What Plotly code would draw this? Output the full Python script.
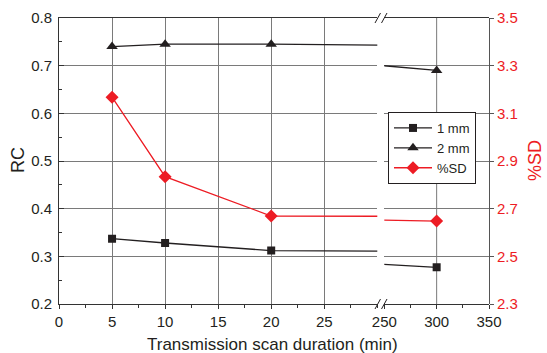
import plotly.graph_objects as go

# ---- data ----
durations = [5, 10, 20, 300]          # transmission scan duration (min)
rc_1mm = [0.337, 0.328, 0.312, 0.277]
rc_2mm = [0.740, 0.745, 0.745, 0.690]
pct_sd = [3.168, 2.834, 2.669, 2.648]

seg1_ticks = [0, 5, 10, 15, 20, 25]
seg2_ticks = [250, 300, 350]
rc_ticks = [0.2, 0.3, 0.4, 0.5, 0.6, 0.7, 0.8]
sd_ticks = [2.3, 2.5, 2.7, 2.9, 3.1, 3.3, 3.5]

BLACK = "#231f20"
RED = "#ed1c24"
GRID = "#7a7a7a"
FONT = "Liberation Sans, Arial, sans-serif"

W, H = 547, 353
ML, MR, MT, MB = 59, 58, 18, 49
PW = W - ML - MR
PH = H - MT - MB
d1 = (377.3 - ML) / PW
d2 = (384.3 - ML) / PW


def px_x(px):
    return (px - ML) / PW


def px_y(py):
    return (H - MB - py) / PH


fig = go.Figure()

series = [
    ("1 mm", rc_1mm, BLACK, "square", 8, "y", "y3"),
    ("2 mm", rc_2mm, BLACK, "triangle-up", 10, "y", "y3"),
    ("%SD", pct_sd, RED, "diamond", 10, "y2", "y4"),
]
for name, vals, col, sym, sz, ya1, ya2 in series:
    for xa, ya, show in (("x", ya1, True), ("x2", ya2, False)):
        fig.add_trace(go.Scatter(
            x=durations, y=vals, name=name, mode="lines+markers",
            xaxis=xa, yaxis=ya, showlegend=show,
            line=dict(color=col, width=1.3),
            marker=dict(color=col, symbol=sym, size=sz),
        ))

axis_common = dict(showline=True, linecolor="#333333", linewidth=1, automargin=False,
                   zeroline=False, tickfont=dict(family=FONT, size=15, color=BLACK))

fig.update_layout(
    width=W, height=H,
    margin=dict(l=ML, r=MR, t=MT, b=MB),
    paper_bgcolor="white", plot_bgcolor="white",
    font=dict(family=FONT, color=BLACK),
    xaxis=dict(domain=[0, d1], range=[0, 30], anchor="y",
               tickvals=seg1_ticks, ticks="outside", ticklen=4, tickcolor="#333",
               minor=dict(dtick=2.5, ticks="outside", ticklen=3, tickcolor="#333"),
               showgrid=True, gridcolor=GRID, gridwidth=1, mirror=True, **axis_common),
    xaxis2=dict(domain=[d2, 1], range=[250, 350], anchor="y3",
                tickvals=seg2_ticks, ticks="outside", ticklen=4, tickcolor="#333",
                minor=dict(dtick=25, ticks="outside", ticklen=3, tickcolor="#333"),
                showgrid=False, mirror=True, **axis_common),
    yaxis=dict(domain=[0, 1], range=[0.2, 0.8], anchor="x", side="left",
               tickvals=rc_ticks, ticks="inside", ticklen=5, tickcolor="#333",
               minor=dict(dtick=0.05, ticks="inside", ticklen=3, tickcolor="#333"),
               tickformat=".1f", showgrid=True, gridcolor=GRID, gridwidth=1,
               ticklabelstandoff=3, **axis_common),
    yaxis2=dict(range=[2.3, 3.5], overlaying="y", side="right", anchor="free", position=1,
                tickvals=sd_ticks, ticks="outside", ticklen=4, tickcolor="#555",
                tickformat=".1f", showgrid=False, showline=True, linecolor="#555",
                zeroline=False, automargin=False,
                tickfont=dict(family=FONT, size=15, color=RED)),
    yaxis3=dict(domain=[0, 1], range=[0.2, 0.8], anchor="x2", tickvals=rc_ticks,
                showticklabels=False, ticks="", showgrid=True, gridcolor=GRID,
                gridwidth=1, showline=False, zeroline=False, automargin=False),
    yaxis4=dict(range=[2.3, 3.5], overlaying="y3", visible=False),
    legend=dict(x=px_x(388), y=px_y(112), xanchor="left", yanchor="top",
                bgcolor="white", bordercolor=BLACK, borderwidth=1, itemwidth=38,
                font=dict(family=FONT, size=13, color=BLACK), tracegroupgap=0),
    showlegend=True,
)

# vertical grid line at 300 inside the second segment
fig.add_shape(type="line", xref="x2", yref="paper", x0=300, x1=300, y0=0, y1=1,
              line=dict(color=GRID, width=1), layer="below")

# axis break marks
for ypx in (304, 18):
    for dx in (0, 6.5):
        fig.add_shape(type="line", xref="paper", yref="paper",
                      x0=px_x(375 + dx), x1=px_x(380.5 + dx),
                      y0=px_y(ypx + 5), y1=px_y(ypx - 5),
                      line=dict(color=BLACK, width=1))

# axis titles
fig.add_annotation(text="Transmission scan duration (min)", xref="paper", yref="paper",
                   x=px_x(272), y=px_y(344), xanchor="center", yanchor="middle",
                   showarrow=False, font=dict(family=FONT, size=17, color=BLACK))
fig.add_annotation(text="RC", xref="paper", yref="paper", x=px_x(18), y=px_y(160),
                   xanchor="center", yanchor="middle", textangle=-90, showarrow=False,
                   font=dict(family=FONT, size=18, color=BLACK))
fig.add_annotation(text="%SD", xref="paper", yref="paper", x=px_x(535), y=px_y(161),
                   xanchor="center", yanchor="middle", textangle=-90, showarrow=False,
                   font=dict(family=FONT, size=18, color=RED))

fig.write_html("out.html", config={"displayModeBar": False},
               post_script="document.body.style.margin='0';")
